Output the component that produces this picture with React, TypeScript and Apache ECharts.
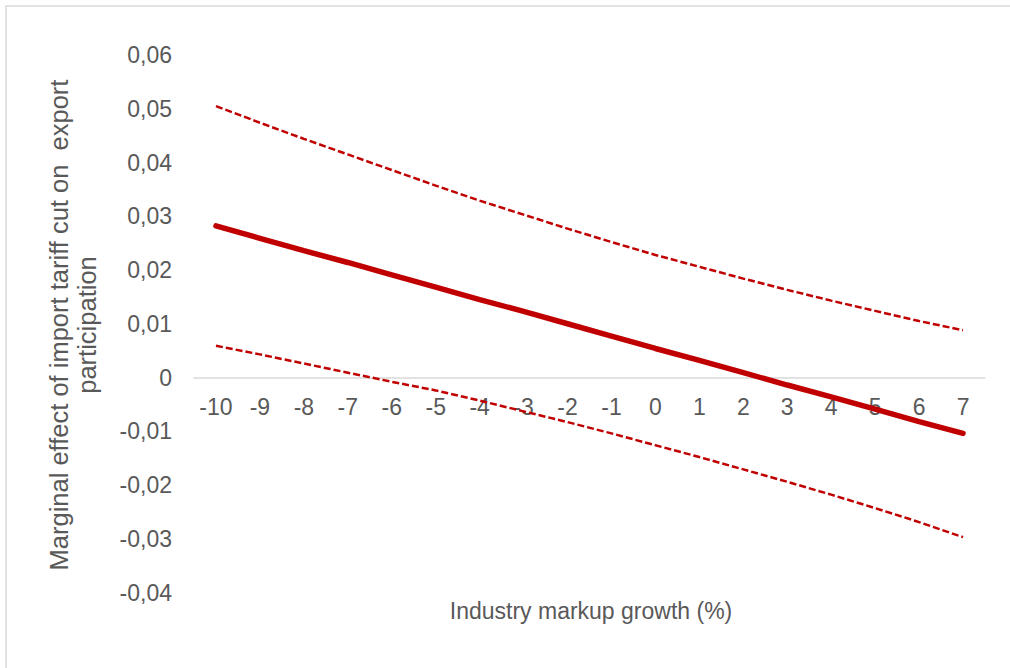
import React, { useEffect, useRef } from "react";
import * as echarts from "echarts";

const categories = ["-10", "-9", "-8", "-7", "-6", "-5", "-4", "-3", "-2", "-1", "0", "1", "2", "3", "4", "5", "6", "7"];
const marginalEffect = [0.0282, 0.0259, 0.0236, 0.0214, 0.0191, 0.0168, 0.0145, 0.0123, 0.01, 0.0077, 0.0054, 0.0032, 0.0009, -0.0014, -0.0036, -0.0059, -0.0082, -0.0104];
const upperBound = [0.0505, 0.0474, 0.0444, 0.0415, 0.0386, 0.0357, 0.0329, 0.0303, 0.0277, 0.0252, 0.0228, 0.0206, 0.0184, 0.0163, 0.0143, 0.0124, 0.0105, 0.0088];
const lowerBound = [0.0059, 0.0043, 0.0026, 0.0009, -0.0008, -0.0024, -0.0043, -0.0063, -0.0083, -0.0104, -0.0126, -0.0148, -0.0171, -0.0194, -0.0218, -0.0243, -0.0269, -0.0297];
const yTitle = "Marginal effect of import tariff cut on  export\nparticipation";
const xTitle = "Industry markup growth (%)";

const RED = "#C00000";
const TEXT = "#595959";
const FONT = "'Liberation Sans', Arial, sans-serif";

const GRID_TOP = 55;
const GRID_BOTTOM = 75.5;
const Y_MIN = -0.04;
const Y_MAX = 0.06;

export default function App() {
  const ref = useRef<HTMLDivElement>(null);
  useEffect(() => {
    document.body.style.margin = "0";
    const chart = echarts.init(ref.current!, null, { renderer: "svg" });
    const plotH = 668 - GRID_TOP - GRID_BOTTOM;
    const zeroOffset = -(plotH * (0 - Y_MIN)) / (Y_MAX - Y_MIN);
    chart.setOption({
      animation: false,
      backgroundColor: "#ffffff",
      grid: { left: 194, right: 25, top: GRID_TOP, bottom: GRID_BOTTOM },
      xAxis: {
        type: "category",
        data: categories,
        boundaryGap: true,
        position: "bottom",
        offset: zeroOffset,
        axisLine: { onZero: false, lineStyle: { color: "#d9d9d9", width: 1.5 } },
        axisTick: { show: false },
        axisLabel: { color: TEXT, fontSize: 23, fontFamily: FONT, margin: 18, interval: 0 },
        splitLine: { show: false },
      },
      yAxis: {
        type: "value",
        min: Y_MIN,
        max: Y_MAX,
        interval: 0.01,
        axisLine: { show: false },
        axisTick: { show: false },
        splitLine: { show: false },
        axisLabel: {
          color: TEXT,
          fontSize: 23,
          fontFamily: FONT,
          margin: 22,
          formatter: (v: number) => (Math.abs(v) < 1e-9 ? "0" : v.toFixed(2).replace(".", ",")),
        },
      },
      graphic: [
        {
          type: "rect",
          shape: { x: 6, y: 6, width: 1100, height: 800 },
          style: { fill: "none", stroke: "#d9d9d9", lineWidth: 1.5 },
          silent: true,
        },
        {
          type: "text",
          x: 73,
          y: 325,
          rotation: Math.PI / 2,
          style: {
            text: yTitle,
            fill: TEXT,
            fontSize: 25.5,
            fontFamily: FONT,
            align: "center",
            verticalAlign: "middle",
            lineHeight: 28,
          },
        },
        {
          type: "text",
          x: 591,
          y: 611,
          style: {
            text: xTitle,
            fill: TEXT,
            fontSize: 23,
            fontFamily: FONT,
            align: "center",
            verticalAlign: "middle",
          },
        },
      ],
      series: [
        {
          type: "line",
          data: upperBound,
          symbol: "none",
          lineStyle: { color: RED, width: 2.5, type: [7, 3] },
        },
        {
          type: "line",
          data: lowerBound,
          symbol: "none",
          lineStyle: { color: RED, width: 2.5, type: [7, 3] },
        },
        {
          type: "line",
          data: marginalEffect,
          symbol: "none",
          lineStyle: { color: RED, width: 5.5, cap: "round" },
        },
      ],
    });
    return () => chart.dispose();
  }, []);
  return <div ref={ref} style={{ width: 1010, height: 668, position: "absolute", left: 0, top: 0 }} />;
}
